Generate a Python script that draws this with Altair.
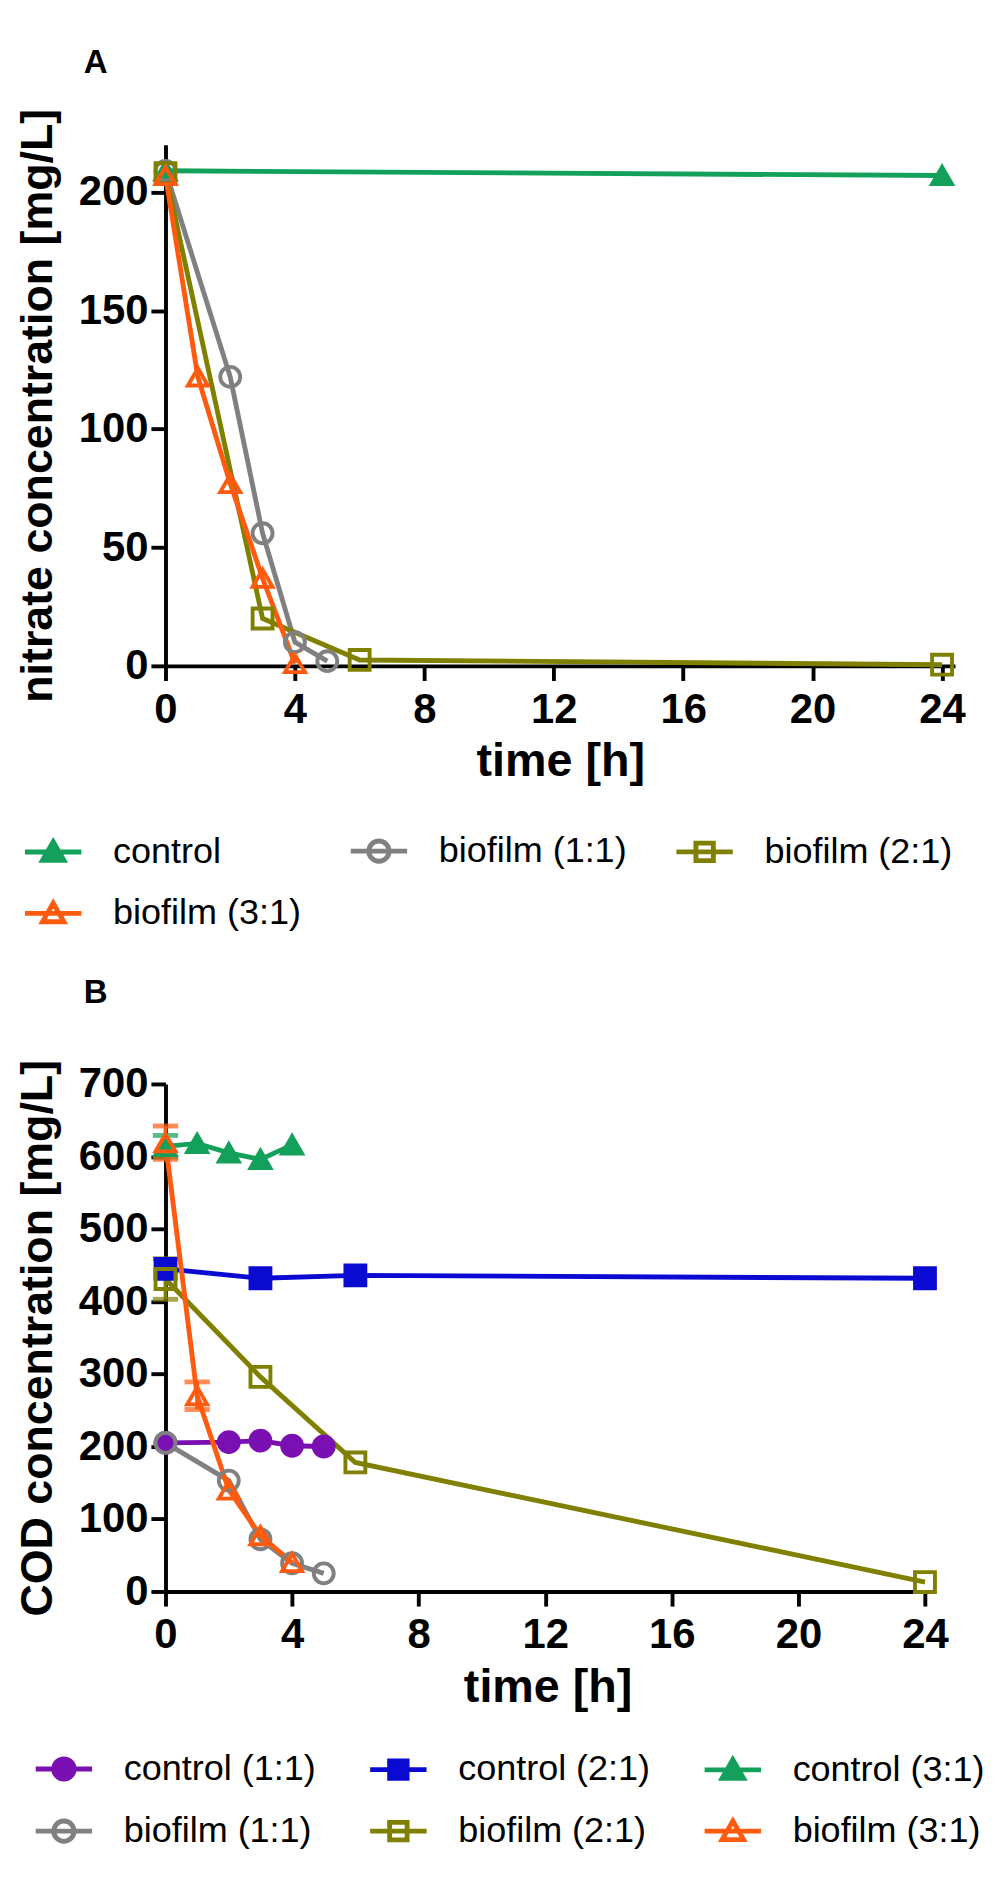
import altair as alt
import pandas as pd

FONT = "Liberation Sans"

# ---------------- Panel A: nitrate ----------------
A_SERIES = ["control", "biofilm (1:1)", "biofilm (2:1)", "biofilm (3:1)"]
A_COLORS = ["#13a05b", "#808080", "#808000", "#ff5a0e"]
A_SHAPES = ["triangle-up", "circle", "square", "triangle-up"]
A_FILLED = [True, False, False, False]

a_control_t = [0, 24]
a_control_v = [209, 207]
a_bio11_t = [0, 2, 3, 4, 5]
a_bio11_v = [209, 122, 56, 10, 2]
a_bio21_t = [0, 3, 6, 24]
a_bio21_v = [208, 20, 2.5, 0.5]
a_bio31_t = [0, 1, 2, 3, 4]
a_bio31_v = [207, 122, 77, 37, 1]

a_x_ticks = [0, 4, 8, 12, 16, 20, 24]
a_y_ticks = [0, 50, 100, 150, 200]

# ---------------- Panel B: COD ----------------
B_SERIES = ["control (1:1)", "control (2:1)", "control (3:1)",
            "biofilm (1:1)", "biofilm (2:1)", "biofilm (3:1)"]
B_COLORS = ["#7a0fb2", "#0a0ad2", "#13a05b", "#808080", "#808000", "#ff5a0e"]
B_SHAPES = ["circle", "square", "triangle-up", "circle", "square", "triangle-up"]
B_FILLED = [True, True, True, False, False, False]

b_c11_t = [0, 2, 3, 4, 5]
b_c11_v = [205, 206, 208, 201, 200]
b_c11_e = [0, 0, 0, 0, 0]
b_c21_t = [0, 3, 6, 24]
b_c21_v = [445, 432, 436, 432]
b_c21_e = [0, 0, 0, 0]
b_c31_t = [0, 1, 2, 3, 4]
b_c31_v = [614, 618, 605, 596, 616]
b_c31_e = [15, 0, 0, 0, 0]
b_b11_t = [0, 2, 3, 4, 5]
b_b11_v = [205, 153, 72, 39, 25]
b_b11_e = [0, 0, 0, 0, 0]
b_b21_t = [0, 3, 6, 24]
b_b21_v = [431, 296, 178, 13]
b_b21_e = [28, 0, 0, 0]
b_b31_t = [0, 1, 2, 3, 4]
b_b31_v = [619, 270, 140, 77, 40]
b_b31_e = [23, 19, 0, 0, 0]

b_x_ticks = [0, 4, 8, 12, 16, 20, 24]
b_y_ticks = [0, 100, 200, 300, 400, 500, 600, 700]

# legend symbols: a line with the marker on it (unit coordinates)
LINE = "M-1,0H1"
MARK_PATH = {
    "circle": "M-0.36,0A0.36,0.36,0,1,1,0.36,0A0.36,0.36,0,1,1,-0.36,0Z",
    "square": "M-0.31,-0.31H0.31V0.31H-0.31Z",
    "triangle-up": "M0,-0.36L0.38,0.3H-0.38Z",
}


def frame(series_list):
    rows = []
    for name, ts, vs, es in series_list:
        for t, v, e in zip(ts, vs, es):
            rows.append({"series": name, "lseries": name, "t": t, "v": v, "err": e})
    return pd.DataFrame(rows)


def panel(df, names, colors, shapes, filled, xdom, ydom, xt, yt, ytitle,
          w, h, label, title_offset, lx, ly, colpad):
    col_scale = alt.Scale(domain=names, range=colors)
    fill_scale = alt.Scale(domain=names, range=[c if f else "transparent" for c, f in zip(colors, filled)])
    shape_scale = alt.Scale(domain=names, range=shapes)
    path_scale = alt.Scale(domain=names, range=[LINE + MARK_PATH[s] for s in shapes])

    x = alt.X("t:Q", scale=alt.Scale(domain=xdom, nice=False, zero=False),
              axis=alt.Axis(values=xt, title="time [h]", format="d"))
    y = alt.Y("v:Q", scale=alt.Scale(domain=ydom, nice=False),
              axis=alt.Axis(values=yt, title=ytitle, format="d"))

    base = alt.Chart(df)
    lines = base.mark_line(strokeWidth=5).encode(
        x=x, y=y, color=alt.Color("series:N", scale=col_scale, legend=None),
        detail="series:N", order="t:Q")

    eb = base.transform_filter(alt.datum.err > 0).transform_calculate(
        lo="datum.v - datum.err", hi="datum.v + datum.err")
    rules = eb.mark_rule(strokeWidth=4).encode(
        x=x, y="lo:Q", y2="hi:Q",
        color=alt.Color("series:N", scale=col_scale, legend=None))
    cap_lo = eb.mark_tick(orient="horizontal", size=26, thickness=5).encode(
        x=x, y="lo:Q", color=alt.Color("series:N", scale=col_scale, legend=None))
    cap_hi = eb.mark_tick(orient="horizontal", size=26, thickness=5).encode(
        x=x, y="hi:Q", color=alt.Color("series:N", scale=col_scale, legend=None))

    points = base.mark_point(size=420, strokeWidth=4, opacity=1).encode(
        x=x, y=y,
        stroke=alt.Stroke("series:N", scale=col_scale, legend=None),
        fill=alt.Fill("series:N", scale=fill_scale, legend=None),
        shape=alt.Shape("series:N", scale=shape_scale, legend=None))

    leg = alt.Legend(title=None, orient="none", legendX=lx, legendY=ly,
                     columns=3, direction="horizontal", symbolSize=3364,
                     symbolStrokeWidth=5, labelFont=FONT, labelFontSize=37,
                     labelColor="black", labelOffset=30, columnPadding=colpad,
                     rowPadding=12, padding=0, symbolOpacity=1, labelLimit=0)
    legend_layer = base.transform_filter(alt.datum.t < -100).mark_point(strokeWidth=5).encode(
        x=x, y=y,
        stroke=alt.Stroke("lseries:N", scale=col_scale, legend=leg),
        fill=alt.Fill("lseries:N", scale=fill_scale, legend=leg),
        shape=alt.Shape("lseries:N", scale=path_scale, legend=leg))

    return alt.layer(lines, rules, cap_lo, cap_hi, points, legend_layer).resolve_scale(
        stroke="independent", fill="independent", shape="independent"
    ).properties(
        width=w, height=h,
        title=alt.TitleParams(label, anchor="start", frame="group", dx=-84,
                              offset=title_offset, font=FONT, fontSize=34,
                              fontWeight="bold", color="black"))


dfA = frame([
    ("control", a_control_t, a_control_v, [0] * len(a_control_t)),
    ("biofilm (1:1)", a_bio11_t, a_bio11_v, [0] * len(a_bio11_t)),
    ("biofilm (2:1)", a_bio21_t, a_bio21_v, [0] * len(a_bio21_t)),
    ("biofilm (3:1)", a_bio31_t, a_bio31_v, [0] * len(a_bio31_t)),
])
dfB = frame([
    ("control (1:1)", b_c11_t, b_c11_v, b_c11_e),
    ("control (2:1)", b_c21_t, b_c21_v, b_c21_e),
    ("control (3:1)", b_c31_t, b_c31_v, b_c31_e),
    ("biofilm (1:1)", b_b11_t, b_b11_v, b_b11_e),
    ("biofilm (2:1)", b_b21_t, b_b21_v, b_b21_e),
    ("biofilm (3:1)", b_b31_t, b_b31_v, b_b31_e),
])

chartA = panel(dfA, A_SERIES, A_COLORS, A_SHAPES, A_FILLED, [0, 24.4], [0, 220],
               a_x_ticks, a_y_ticks, "nitrate concentration [mg/L]",
               812, 536, "A", 29, -147, 695, 40)
chartB = panel(dfB, B_SERIES, B_COLORS, B_SHAPES, B_FILLED, [0, 24.15], [0, 700],
               b_x_ticks, b_y_ticks, "COD concentration [mg/L]",
               786, 522, "B", 51, -136, 673, 45)

chart = alt.vconcat(chartA, chartB, spacing=45).resolve_scale(
    color="independent", stroke="independent", fill="independent", shape="independent"
).properties(
    padding={"left": 7, "top": 13, "right": 5, "bottom": 0}
).configure_view(stroke=None).configure_axis(
    domainColor="black", domainWidth=4, tickColor="black", tickWidth=4, tickSize=15,
    labelColor="black", titleColor="black", labelFont=FONT, titleFont=FONT,
    labelFontWeight="bold", titleFontWeight="bold", labelFontSize=43, titleFontSize=48,
    grid=False, labelFlush=False, labelOverlap=False
).configure_axisX(labelPadding=9, titlePadding=8).configure_axisY(
    labelPadding=3, titlePadding=18, titleFontSize=46)

chart.save("out.html", embed_options={"renderer": "svg", "actions": False})
